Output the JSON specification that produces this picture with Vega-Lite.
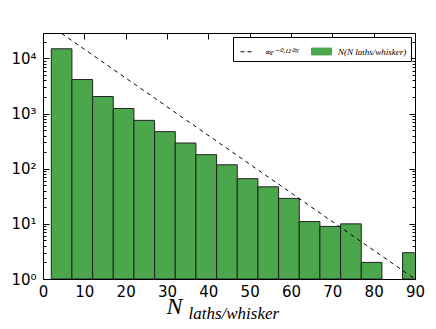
{
  "$schema": "https://vega.github.io/schema/vega-lite/v6.json",
  "width": 372,
  "height": 246,
  "autosize": "none",
  "padding": {"left": 43, "top": 33, "right": 21, "bottom": 50},
  "background": "white",
  "config": {"view": {"stroke": null}, "axis": {"grid": false}},
  "datasets": {
    "hist": [
      {"bin_start": 2, "bin_end": 7, "count": 15000, "series": "N(N laths/whisker)"},
      {"bin_start": 7, "bin_end": 12, "count": 4150, "series": "N(N laths/whisker)"},
      {"bin_start": 12, "bin_end": 17, "count": 2040, "series": "N(N laths/whisker)"},
      {"bin_start": 17, "bin_end": 22, "count": 1240, "series": "N(N laths/whisker)"},
      {"bin_start": 22, "bin_end": 27, "count": 755, "series": "N(N laths/whisker)"},
      {"bin_start": 27, "bin_end": 32, "count": 471, "series": "N(N laths/whisker)"},
      {"bin_start": 32, "bin_end": 37, "count": 293, "series": "N(N laths/whisker)"},
      {"bin_start": 37, "bin_end": 42, "count": 180, "series": "N(N laths/whisker)"},
      {"bin_start": 42, "bin_end": 47, "count": 118, "series": "N(N laths/whisker)"},
      {"bin_start": 47, "bin_end": 52, "count": 66, "series": "N(N laths/whisker)"},
      {"bin_start": 52, "bin_end": 57, "count": 47, "series": "N(N laths/whisker)"},
      {"bin_start": 57, "bin_end": 62, "count": 29, "series": "N(N laths/whisker)"},
      {"bin_start": 62, "bin_end": 67, "count": 11, "series": "N(N laths/whisker)"},
      {"bin_start": 67, "bin_end": 72, "count": 9, "series": "N(N laths/whisker)"},
      {"bin_start": 72, "bin_end": 77, "count": 10, "series": "N(N laths/whisker)"},
      {"bin_start": 77, "bin_end": 82, "count": 2, "series": "N(N laths/whisker)"},
      {"bin_start": 87, "bin_end": 92, "count": 3, "series": "N(N laths/whisker)"}
    ],
    "fit": [
      {"N": 4.5, "value": 28500, "series": "∝e⁻⁰·¹²⁰ᴺ"},
      {"N": 89.5, "value": 1.06, "series": "∝e⁻⁰·¹²⁰ᴺ"}
    ]
  },
  "resolve": {"axis": {"x": "independent", "y": "independent"}},
  "layer": [
    {
      "data": {"name": "hist"},
      "mark": {"type": "bar", "clip": true, "stroke": "#222222", "strokeWidth": 1},
      "encoding": {
        "x": {
          "field": "bin_start", "type": "quantitative",
          "scale": {"domain": [0, 90], "nice": false, "zero": false},
          "axis": {
            "orient": "bottom", "values": [0, 10, 20, 30, 40, 50, 60, 70, 80, 90],
            "tickSize": -6, "tickColor": "black", "domainColor": "black",
            "labelFont": "DejaVu Sans", "labelFontSize": 15, "labelColor": "black",
            "labelPadding": 11, "labelFlush": false,
            "title": "N", "titleFont": "Liberation Serif", "titleFontStyle": "italic",
            "titleFontWeight": "normal", "titleFontSize": 24, "titleColor": "black",
            "titleX": 131, "titleY": 34, "titleBaseline": "alphabetic", "titleAlign": "center"
          }
        },
        "x2": {"field": "bin_end"},
        "y": {
          "field": "count", "type": "quantitative",
          "scale": {"type": "log", "domain": [1, 29000], "nice": false},
          "axis": {
            "orient": "left", "values": [1, 10, 100, 1000, 10000],
            "labelExpr": "'10' + ['⁰','¹','²','³','⁴'][round(log(datum.value)/LN10)]",
            "tickSize": -6, "tickColor": "black", "domainColor": "black",
            "labelFont": "DejaVu Sans", "labelFontSize": 15, "labelColor": "black",
            "labelPadding": 13, "labelFlush": false, "title": null
          }
        },
        "y2": {"datum": 1},
        "color": {
          "field": "series", "type": "nominal",
          "scale": {"domain": ["∝e⁻⁰·¹²⁰ᴺ", "N(N laths/whisker)"], "range": ["black", "#4ca64c"]},
          "legend": {
            "orient": "top-right", "direction": "horizontal", "title": null, "offset": 4,
            "padding": 4, "strokeColor": "black", "fillColor": "white", "cornerRadius": 0,
            "labelFont": "Liberation Serif", "labelFontStyle": "italic", "labelFontSize": 9,
            "labelColor": "black", "symbolSize": 400, "labelOffset": 6, "columnPadding": 10,
            "labelLimit": 200,
            "encoding": {
              "symbols": {
                "shape": {"condition": {"test": "datum.value !== 'N(N laths/whisker)'", "value": "M-0.7,0H0.7"}, "value": "M-1,-0.35H1V0.35H-1Z"},
                "strokeDash": {"condition": {"test": "datum.value !== 'N(N laths/whisker)'", "value": [4, 3]}, "value": [1, 0]},
                "stroke": {"condition": {"test": "datum.value !== 'N(N laths/whisker)'", "value": "black"}, "value": "#222222"},
                "fill": {"condition": {"test": "datum.value !== 'N(N laths/whisker)'", "value": "transparent"}, "value": "#4ca64c"},
                "strokeWidth": {"value": 1},
                "opacity": {"value": 1}
              }
            }
          }
        }
      }
    },
    {
      "data": {"name": "fit"},
      "mark": {"type": "line", "strokeDash": [4, 4], "strokeWidth": 1, "clip": true},
      "encoding": {
        "x": {
          "field": "N", "type": "quantitative",
          "axis": {
            "orient": "top", "values": [0, 10, 20, 30, 40, 50, 60, 70, 80, 90],
            "tickSize": -6, "tickColor": "black", "domainColor": "black",
            "labels": false, "title": null
          }
        },
        "y": {
          "field": "value", "type": "quantitative",
          "axis": {
            "orient": "right", "values": [1, 10, 100, 1000, 10000],
            "tickSize": -6, "tickColor": "black", "domainColor": "black",
            "labels": false, "title": null
          }
        },
        "color": {"field": "series", "type": "nominal"}
      }
    },
    {
      "data": {"name": "fit"},
      "mark": {"type": "point", "opacity": 0},
      "encoding": {
        "x": {
          "field": "N", "type": "quantitative",
          "axis": {
            "orient": "bottom", "ticks": false, "labels": false, "domain": false,
            "title": "laths/whisker", "titleFont": "Liberation Serif", "titleFontStyle": "italic",
            "titleFontWeight": "normal", "titleFontSize": 17, "titleColor": "black",
            "titleX": 145, "titleY": 39, "titleBaseline": "alphabetic", "titleAlign": "left"
          }
        },
        "y": {
          "field": "value", "type": "quantitative",
          "axis": {
            "orient": "left", "values": [2, 3, 4, 5, 6, 7, 8, 9, 20, 30, 40, 50, 60, 70, 80, 90, 200, 300, 400, 500, 600, 700, 800, 900, 2000, 3000, 4000, 5000, 6000, 7000, 8000, 9000, 20000],
            "tickSize": -3, "tickColor": "black", "domain": false, "labels": false, "title": null
          }
        }
      }
    },
    {
      "data": {"name": "fit"},
      "mark": {"type": "point", "opacity": 0},
      "encoding": {
        "x": {"field": "N", "type": "quantitative", "axis": null},
        "y": {
          "field": "value", "type": "quantitative",
          "axis": {
            "orient": "right", "values": [2, 3, 4, 5, 6, 7, 8, 9, 20, 30, 40, 50, 60, 70, 80, 90, 200, 300, 400, 500, 600, 700, 800, 900, 2000, 3000, 4000, 5000, 6000, 7000, 8000, 9000, 20000],
            "tickSize": -3, "tickColor": "black", "domain": false, "labels": false, "title": null
          }
        }
      }
    }
  ]
}
